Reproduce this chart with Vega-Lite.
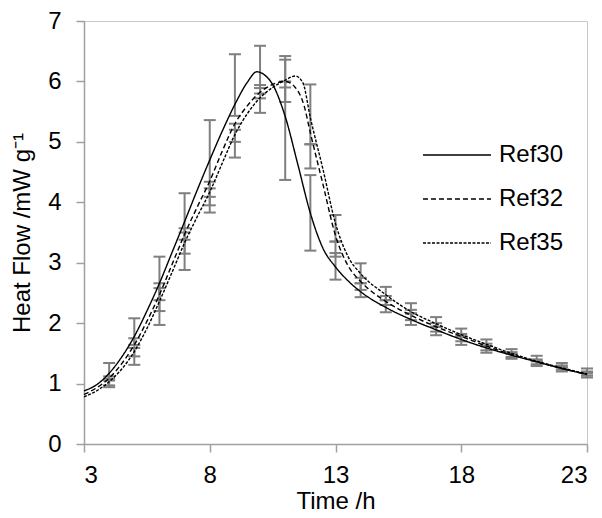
{
  "$schema": "https://vega.github.io/schema/vega-lite/v6.json",
  "width": 503,
  "height": 423,
  "autosize": {"type": "none"},
  "padding": {"left": 84, "top": 21, "right": 15, "bottom": 74},
  "background": "white",
  "config": {
    "font": "Liberation Sans",
    "view": {"stroke": "#c8c8c8", "strokeWidth": 1},
    "axis": {
      "grid": false,
      "domainColor": "#a0a0a0",
      "domainWidth": 1.5,
      "tickColor": "#a0a0a0",
      "tickWidth": 1.5,
      "tickSize": 8,
      "labelColor": "black",
      "labelFont": "Liberation Sans",
      "labelFontSize": 24,
      "titleColor": "black",
      "titleFont": "Liberation Sans",
      "titleFontSize": 24,
      "titleFontWeight": "normal"
    },
    "legend": {
      "labelFont": "Liberation Sans",
      "labelFontSize": 24,
      "labelColor": "black"
    }
  },
  "datasets": {
    "curves": [
      {"t": 3, "v": 0.88, "s": "Ref30"}, {"t": 3.5, "v": 0.98, "s": "Ref30"}, {"t": 4, "v": 1.17, "s": "Ref30"}, {"t": 4.5, "v": 1.44, "s": "Ref30"}, {"t": 5, "v": 1.78, "s": "Ref30"}, {"t": 5.5, "v": 2.2, "s": "Ref30"}, {"t": 6, "v": 2.66, "s": "Ref30"}, {"t": 6.5, "v": 3.17, "s": "Ref30"}, {"t": 7, "v": 3.68, "s": "Ref30"}, {"t": 7.5, "v": 4.2, "s": "Ref30"}, {"t": 8, "v": 4.7, "s": "Ref30"}, {"t": 8.5, "v": 5.18, "s": "Ref30"}, {"t": 9, "v": 5.62, "s": "Ref30"}, {"t": 9.5, "v": 5.99, "s": "Ref30"}, {"t": 9.87, "v": 6.16, "s": "Ref30"}, {"t": 10.2, "v": 6.1, "s": "Ref30"}, {"t": 10.5, "v": 5.95, "s": "Ref30"}, {"t": 11, "v": 5.42, "s": "Ref30"}, {"t": 11.5, "v": 4.63, "s": "Ref30"}, {"t": 12, "v": 3.82, "s": "Ref30"}, {"t": 12.5, "v": 3.24, "s": "Ref30"}, {"t": 13, "v": 2.93, "s": "Ref30"}, {"t": 13.5, "v": 2.7, "s": "Ref30"}, {"t": 14, "v": 2.52, "s": "Ref30"}, {"t": 15, "v": 2.26, "s": "Ref30"}, {"t": 16, "v": 2.06, "s": "Ref30"}, {"t": 17, "v": 1.89, "s": "Ref30"}, {"t": 18, "v": 1.73, "s": "Ref30"}, {"t": 19, "v": 1.59, "s": "Ref30"}, {"t": 20, "v": 1.47, "s": "Ref30"}, {"t": 21, "v": 1.36, "s": "Ref30"}, {"t": 22, "v": 1.25, "s": "Ref30"}, {"t": 23, "v": 1.15, "s": "Ref30"},
      {"t": 3, "v": 0.82, "s": "Ref32"}, {"t": 3.5, "v": 0.93, "s": "Ref32"}, {"t": 4, "v": 1.09, "s": "Ref32"}, {"t": 4.5, "v": 1.33, "s": "Ref32"}, {"t": 5, "v": 1.64, "s": "Ref32"}, {"t": 5.5, "v": 2.03, "s": "Ref32"}, {"t": 6, "v": 2.47, "s": "Ref32"}, {"t": 6.5, "v": 2.97, "s": "Ref32"}, {"t": 7, "v": 3.47, "s": "Ref32"}, {"t": 7.5, "v": 3.92, "s": "Ref32"}, {"t": 8, "v": 4.35, "s": "Ref32"}, {"t": 8.5, "v": 4.85, "s": "Ref32"}, {"t": 9, "v": 5.3, "s": "Ref32"}, {"t": 9.5, "v": 5.6, "s": "Ref32"}, {"t": 10, "v": 5.82, "s": "Ref32"}, {"t": 10.5, "v": 5.95, "s": "Ref32"}, {"t": 11, "v": 6.0, "s": "Ref32"}, {"t": 11.4, "v": 5.9, "s": "Ref32"}, {"t": 11.75, "v": 5.6, "s": "Ref32"}, {"t": 12, "v": 5.15, "s": "Ref32"}, {"t": 12.5, "v": 4.3, "s": "Ref32"}, {"t": 13, "v": 3.45, "s": "Ref32"}, {"t": 13.5, "v": 2.95, "s": "Ref32"}, {"t": 14, "v": 2.69, "s": "Ref32"}, {"t": 15, "v": 2.36, "s": "Ref32"}, {"t": 16, "v": 2.13, "s": "Ref32"}, {"t": 17, "v": 1.94, "s": "Ref32"}, {"t": 18, "v": 1.78, "s": "Ref32"}, {"t": 19, "v": 1.62, "s": "Ref32"}, {"t": 20, "v": 1.48, "s": "Ref32"}, {"t": 21, "v": 1.36, "s": "Ref32"}, {"t": 22, "v": 1.25, "s": "Ref32"}, {"t": 23, "v": 1.15, "s": "Ref32"},
      {"t": 3, "v": 0.78, "s": "Ref35"}, {"t": 3.5, "v": 0.88, "s": "Ref35"}, {"t": 4, "v": 1.03, "s": "Ref35"}, {"t": 4.5, "v": 1.24, "s": "Ref35"}, {"t": 5, "v": 1.53, "s": "Ref35"}, {"t": 5.5, "v": 1.91, "s": "Ref35"}, {"t": 6, "v": 2.36, "s": "Ref35"}, {"t": 6.5, "v": 2.84, "s": "Ref35"}, {"t": 7, "v": 3.33, "s": "Ref35"}, {"t": 7.5, "v": 3.76, "s": "Ref35"}, {"t": 8, "v": 4.17, "s": "Ref35"}, {"t": 8.5, "v": 4.65, "s": "Ref35"}, {"t": 9, "v": 5.12, "s": "Ref35"}, {"t": 9.5, "v": 5.47, "s": "Ref35"}, {"t": 10, "v": 5.73, "s": "Ref35"}, {"t": 10.5, "v": 5.9, "s": "Ref35"}, {"t": 11, "v": 6.02, "s": "Ref35"}, {"t": 11.4, "v": 6.09, "s": "Ref35"}, {"t": 11.7, "v": 5.98, "s": "Ref35"}, {"t": 12, "v": 5.4, "s": "Ref35"}, {"t": 12.5, "v": 4.55, "s": "Ref35"}, {"t": 13, "v": 3.65, "s": "Ref35"}, {"t": 13.5, "v": 3.1, "s": "Ref35"}, {"t": 14, "v": 2.82, "s": "Ref35"}, {"t": 15, "v": 2.47, "s": "Ref35"}, {"t": 16, "v": 2.19, "s": "Ref35"}, {"t": 17, "v": 1.99, "s": "Ref35"}, {"t": 18, "v": 1.81, "s": "Ref35"}, {"t": 19, "v": 1.65, "s": "Ref35"}, {"t": 20, "v": 1.5, "s": "Ref35"}, {"t": 21, "v": 1.37, "s": "Ref35"}, {"t": 22, "v": 1.26, "s": "Ref35"}, {"t": 23, "v": 1.16, "s": "Ref35"}
    ],
    "bars": [
      {"t": 4, "s": "Ref30", "lo": 1.08, "hi": 1.34}, {"t": 4, "s": "Ref32", "lo": 0.94, "hi": 1.12}, {"t": 4, "s": "Ref35", "lo": 0.97, "hi": 1.05},
      {"t": 5, "s": "Ref30", "lo": 1.64, "hi": 2.08}, {"t": 5, "s": "Ref32", "lo": 1.31, "hi": 1.75}, {"t": 5, "s": "Ref35", "lo": 1.45, "hi": 1.59},
      {"t": 6, "s": "Ref30", "lo": 2.2, "hi": 3.1}, {"t": 6, "s": "Ref32", "lo": 2.38, "hi": 2.66}, {"t": 6, "s": "Ref35", "lo": 1.97, "hi": 2.58},
      {"t": 7, "s": "Ref30", "lo": 3.38, "hi": 4.15}, {"t": 7, "s": "Ref32", "lo": 2.88, "hi": 3.57}, {"t": 7, "s": "Ref35", "lo": 3.15, "hi": 3.5},
      {"t": 8, "s": "Ref30", "lo": 4.09, "hi": 5.36}, {"t": 8, "s": "Ref32", "lo": 3.83, "hi": 4.34}, {"t": 8, "s": "Ref35", "lo": 3.95, "hi": 4.23},
      {"t": 9, "s": "Ref30", "lo": 5.43, "hi": 6.45}, {"t": 9, "s": "Ref32", "lo": 4.74, "hi": 5.2}, {"t": 9, "s": "Ref35", "lo": 5.0, "hi": 5.3},
      {"t": 10, "s": "Ref30", "lo": 5.48, "hi": 6.59}, {"t": 10, "s": "Ref32", "lo": 5.72, "hi": 5.94}, {"t": 10, "s": "Ref35", "lo": 5.8, "hi": 5.89},
      {"t": 11, "s": "Ref30", "lo": 4.37, "hi": 6.42}, {"t": 11, "s": "Ref32", "lo": 5.66, "hi": 6.36}, {"t": 11, "s": "Ref35", "lo": 5.9, "hi": 6.0},
      {"t": 12, "s": "Ref30", "lo": 3.2, "hi": 4.45}, {"t": 12, "s": "Ref32", "lo": 4.56, "hi": 4.96}, {"t": 12, "s": "Ref35", "lo": 4.96, "hi": 5.95},
      {"t": 13, "s": "Ref30", "lo": 2.72, "hi": 3.16}, {"t": 13, "s": "Ref32", "lo": 3.1, "hi": 3.35}, {"t": 13, "s": "Ref35", "lo": 3.35, "hi": 3.79},
      {"t": 14, "s": "Ref30", "lo": 2.43, "hi": 2.66}, {"t": 14, "s": "Ref32", "lo": 2.55, "hi": 2.75}, {"t": 14, "s": "Ref35", "lo": 2.66, "hi": 2.99},
      {"t": 15, "s": "Ref30", "lo": 2.18, "hi": 2.38}, {"t": 15, "s": "Ref32", "lo": 2.3, "hi": 2.45}, {"t": 15, "s": "Ref35", "lo": 2.38, "hi": 2.6},
      {"t": 16, "s": "Ref30", "lo": 1.97, "hi": 2.16}, {"t": 16, "s": "Ref32", "lo": 2.05, "hi": 2.22}, {"t": 16, "s": "Ref35", "lo": 2.16, "hi": 2.33},
      {"t": 17, "s": "Ref30", "lo": 1.8, "hi": 1.94}, {"t": 17, "s": "Ref32", "lo": 1.86, "hi": 2.0}, {"t": 17, "s": "Ref35", "lo": 1.94, "hi": 2.1},
      {"t": 18, "s": "Ref30", "lo": 1.64, "hi": 1.78}, {"t": 18, "s": "Ref32", "lo": 1.7, "hi": 1.82}, {"t": 18, "s": "Ref35", "lo": 1.78, "hi": 1.91},
      {"t": 19, "s": "Ref30", "lo": 1.51, "hi": 1.62}, {"t": 19, "s": "Ref32", "lo": 1.55, "hi": 1.66}, {"t": 19, "s": "Ref35", "lo": 1.62, "hi": 1.73},
      {"t": 20, "s": "Ref30", "lo": 1.41, "hi": 1.49}, {"t": 20, "s": "Ref32", "lo": 1.44, "hi": 1.52}, {"t": 20, "s": "Ref35", "lo": 1.49, "hi": 1.57},
      {"t": 21, "s": "Ref30", "lo": 1.29, "hi": 1.37}, {"t": 21, "s": "Ref32", "lo": 1.32, "hi": 1.4}, {"t": 21, "s": "Ref35", "lo": 1.37, "hi": 1.46},
      {"t": 22, "s": "Ref30", "lo": 1.2, "hi": 1.27}, {"t": 22, "s": "Ref32", "lo": 1.23, "hi": 1.3}, {"t": 22, "s": "Ref35", "lo": 1.27, "hi": 1.34},
      {"t": 23, "s": "Ref30", "lo": 1.1, "hi": 1.17}, {"t": 23, "s": "Ref32", "lo": 1.13, "hi": 1.2}, {"t": 23, "s": "Ref35", "lo": 1.17, "hi": 1.25}
    ]
  },
  "layer": [
    {
      "data": {"name": "bars"},
      "mark": {"type": "rule", "color": "#7f7f7f", "strokeWidth": 2},
      "encoding": {
        "x": {"field": "t", "type": "quantitative", "scale": {"domain": [3, 23]}},
        "y": {"field": "lo", "type": "quantitative", "scale": {"domain": [0, 7]}},
        "y2": {"field": "hi"}
      }
    },
    {
      "data": {"name": "bars"},
      "mark": {"type": "tick", "orient": "horizontal", "color": "#7f7f7f", "thickness": 2, "size": 12, "opacity": 1},
      "encoding": {
        "x": {"field": "t", "type": "quantitative"},
        "y": {"field": "lo", "type": "quantitative"}
      }
    },
    {
      "data": {"name": "bars"},
      "mark": {"type": "tick", "orient": "horizontal", "color": "#7f7f7f", "thickness": 2, "size": 12, "opacity": 1},
      "encoding": {
        "x": {"field": "t", "type": "quantitative"},
        "y": {"field": "hi", "type": "quantitative"}
      }
    },
    {
      "data": {"name": "curves"},
      "mark": {"type": "line", "color": "black", "strokeWidth": 1.4, "interpolate": "monotone"},
      "encoding": {
        "x": {
          "field": "t", "type": "quantitative",
          "scale": {"domain": [3, 23], "nice": false, "zero": false},
          "axis": {"values": [3, 8, 13, 18, 23], "format": "d", "title": "Time /h", "labelPadding": 11, "titlePadding": 2}
        },
        "y": {
          "field": "v", "type": "quantitative",
          "scale": {"domain": [0, 7], "nice": false},
          "axis": {"values": [0, 1, 2, 3, 4, 5, 6, 7], "format": "d", "title": "Heat Flow /mW g⁻¹", "labelPadding": 15, "titlePadding": 13}
        },
        "strokeDash": {
          "field": "s", "type": "nominal",
          "scale": {"domain": ["Ref30", "Ref32", "Ref35"], "range": [[1, 0], [5, 3], [3, 1.5]]},
          "legend": {
            "title": null,
            "orient": "none",
            "legendX": 338,
            "legendY": 123,
            "padding": 0,
            "symbolType": "stroke",
            "symbolSize": 4624,
            "symbolStrokeWidth": 1.4,
            "symbolStrokeColor": "black",
            "clipHeight": 22,
            "rowPadding": 20,
            "labelOffset": 7
          }
        }
      }
    }
  ]
}
